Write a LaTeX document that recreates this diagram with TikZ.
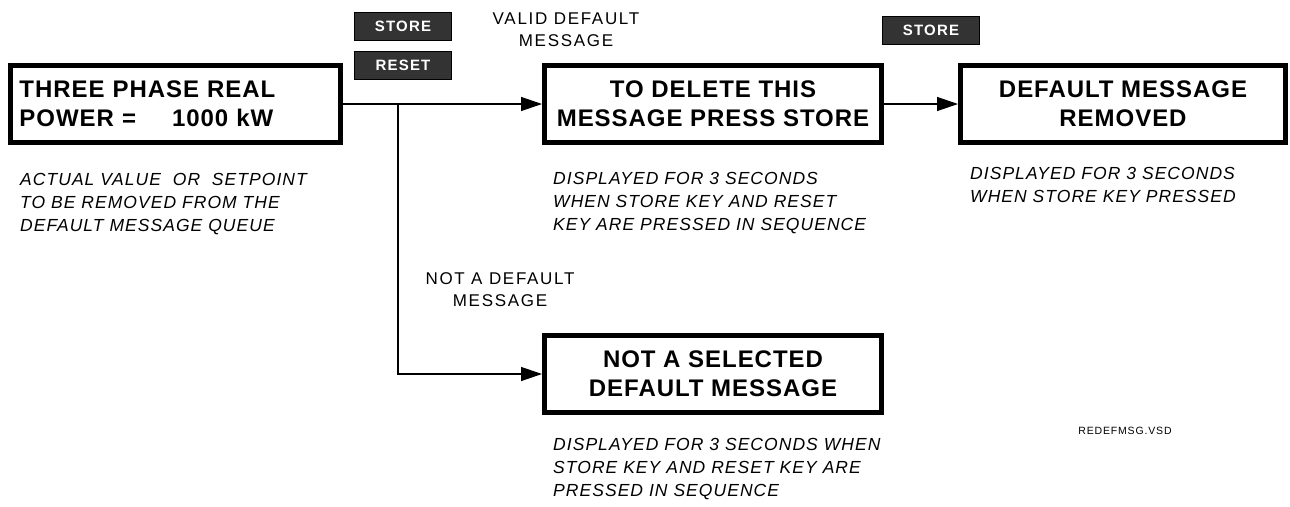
\documentclass[tikz,border=0pt]{standalone}
\usepackage{fontspec}
\setmainfont{Liberation Sans}
\newfontfamily\lcdfont[LetterSpace=4]{Liberation Sans}
\newfontfamily\notefont[LetterSpace=6]{Liberation Sans}
\newfontfamily\labelfont[LetterSpace=10]{Liberation Sans}
\newfontfamily\keyfont[LetterSpace=8]{Liberation Sans}
\usetikzlibrary{arrows.meta,positioning}
\definecolor{keygray}{HTML}{333333}

\tikzstyle{display}=[draw, line width=5pt, minimum height=77pt, inner sep=0pt, align=center, font=\lcdfont\bfseries\fontsize{24}{29}\selectfont]
\tikzstyle{keycap}=[draw=black, fill=keygray, text=white, line width=0.8pt, minimum width=97pt, minimum height=28pt, inner sep=0pt, font=\keyfont\bfseries\fontsize{15}{18}\selectfont]
\tikzstyle{note}=[anchor=north west, inner sep=0pt, align=left, font=\notefont\itshape\fontsize{17.5}{23}\selectfont]
\tikzstyle{branch}=[inner sep=0pt, align=center, font=\labelfont\fontsize{17}{22}\selectfont]
\tikzstyle{post}=[-{Triangle[length=21pt,width=14pt]}, line width=1.3pt]

\begin{document}
\begin{tikzpicture}[x=1pt,y=-1pt]
    \useasboundingbox (0,0) rectangle (1290,506);

    % message displays
    \node (power) [display, align=left, minimum width=330pt, text width=312pt] at (175.5,104)
        {THREE PHASE REAL\\POWER =\hspace{36pt}1000 kW};
    \node (delete) [display, minimum width=337pt] at (713,104) {TO DELETE THIS\\MESSAGE PRESS STORE};
    \node (removed) [display, minimum width=325pt] at (1123,104) {DEFAULT MESSAGE\\REMOVED};
    \node (notsel) [display, minimum width=337pt] at (713,374) {NOT A SELECTED\\DEFAULT MESSAGE};

    % keys
    \node (storeA) [keycap] at (403,26.5) {STORE};
    \node (resetA) [keycap, below=10pt of storeA] {RESET};
    \node (storeB) [keycap] at (931,30.5) {STORE};

    % branch labels
    \node (valid) [branch] at (566,29.5) {VALID DEFAULT\\MESSAGE};
    \node (notdef) [branch] at (500,289.5) {NOT A DEFAULT\\MESSAGE};

    % notes
    \node (noteA) [note] at (20,173.5) {ACTUAL VALUE\ \ OR\ \ SETPOINT\\TO BE REMOVED FROM THE\\DEFAULT MESSAGE QUEUE};
    \node (noteB) [note] at (553,172) {DISPLAYED FOR 3 SECONDS\\WHEN STORE KEY AND RESET\\KEY ARE PRESSED IN SEQUENCE};
    \node (noteC) [note] at (970,167) {DISPLAYED FOR 3 SECONDS\\WHEN STORE KEY PRESSED};
    \node (noteD) [note] at (553,438) {DISPLAYED FOR 3 SECONDS WHEN\\STORE KEY AND RESET KEY ARE\\PRESSED IN SEQUENCE};
    \node (fname) [inner sep=0pt, font=\keyfont\fontsize{10.5}{12}\selectfont] at (1125,431) {REDEFMSG.VSD};

    % connectors
    \coordinate (split) at (398,104);
    \draw[post] (power.east) -- (delete.west);
    \draw[post] (split) |- (notsel.west);
    \draw[post] (delete.east) -- (removed.west);
\end{tikzpicture}
\end{document}
